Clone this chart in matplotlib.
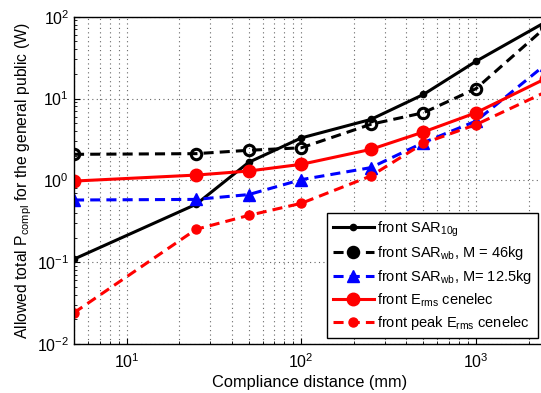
import numpy as np
import matplotlib
matplotlib.use('Agg')
import matplotlib.pyplot as plt

plt.rcParams['font.family'] = ['Liberation Sans', 'DejaVu Sans']
plt.rcParams['mathtext.fontset'] = 'custom'
plt.rcParams['mathtext.rm'] = 'Liberation Sans'
plt.rcParams['mathtext.it'] = 'Liberation Sans'

# расстояния (мм)
dist = [5, 25, 50, 100, 250, 500, 1000, 2500]

# значения мощности (W)
sar10g = [0.109, 0.51, 1.66, 3.3, 5.55, 11.2, 28.5, 86]
sarwb46 = [2.08, 2.12, 2.33, 2.5, 4.84, 6.7, 13.2, 74]
sarwb125 = [0.575, 0.585, 0.67, 1.02, 1.43, 2.89, 5.3, 26]
erms = [0.98, 1.16, 1.3, 1.57, 2.39, 3.9, 6.7, 17.5]
erms_peak = [0.0241, 0.252, 0.373, 0.524, 1.13, 2.83, 4.8, 12]

labels = ['front SAR$_{10g}$',
          'front SAR$_{wb}$, M = 46kg',
          'front SAR$_{wb}$, M= 12.5kg',
          'front E$_{rms}$ cenelec',
          'front peak E$_{rms}$ cenelec']

fig = plt.figure(figsize=(5.41, 3.93), dpi=100)
ax = fig.add_axes([74/541, 49/393, 471.5/541, 327.3/393])

dash = (3.3, 2.0)
ax.plot(dist, sar10g, '-', color='black', lw=2.2, marker='o', ms=4.5, label=labels[0])
ax.plot(dist, sarwb46, '--', color='black', lw=2.2, dashes=dash, marker='o', ms=7.5,
        mfc='none', mew=2.2, label=labels[1])
ax.plot(dist, sarwb125, '--', color='blue', lw=2.2, dashes=dash, marker='^', ms=8.5,
        label=labels[2])
ax.plot(dist, erms, '-', color='red', lw=2.2, marker='o', ms=9, label=labels[3])
ax.plot(dist, erms_peak, '--', color='red', lw=2.2, dashes=dash, marker='o', ms=6.5,
        label=labels[4])

ax.set_xscale('log')
ax.set_yscale('log')
ax.set_xlim(5, 2500)
ax.set_ylim(1e-2, 1e2)

# сетка: по x основная и дополнительная, по y только основная
grid_style = dict(linestyle=(0, (1, 3)), color='0.4', lw=0.8)
ax.xaxis.grid(True, which='both', **grid_style)
ax.yaxis.grid(True, which='major', **grid_style)
ax.tick_params(which='both', direction='in', labelsize=11.5)
ax.tick_params(axis='x', pad=6)
ax.tick_params(which='major', length=4)
ax.tick_params(which='minor', length=2)
for s in ax.spines.values():
    s.set_linewidth(1.0)

ax.set_xlabel('Compliance distance (mm)', fontsize=11.8, labelpad=3)
ax.set_ylabel('Allowed total P$_{compl}$ for the general public (W)', fontsize=11.3, labelpad=2)

# легенда, маркер из легенды должен быть залитым
leg = ax.legend(loc='lower right', bbox_to_anchor=(538/541, 55/393),
                bbox_transform=fig.transFigure, fontsize=10.5, fancybox=False,
                framealpha=1, edgecolor='black', handlelength=2.8,
                borderpad=0.4, labelspacing=0.38, handletextpad=0.25,
                borderaxespad=0.0)
leg.get_frame().set_linewidth(1.0)
leg.legend_handles[1].set_markerfacecolor('black')

fig.savefig('out.png', dpi=100)
